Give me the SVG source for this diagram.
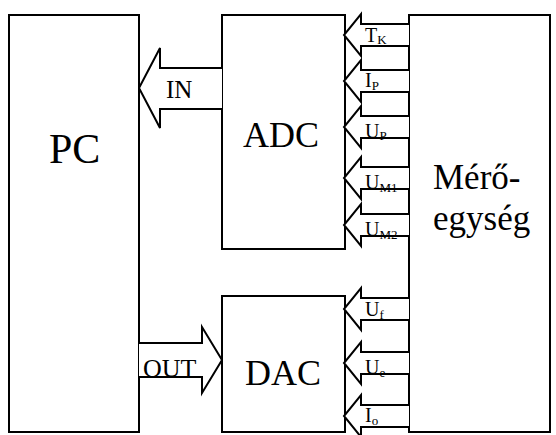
<svg xmlns="http://www.w3.org/2000/svg" width="556" height="435" viewBox="0 0 556 435">
<style>
.box{fill:#fff;stroke:#000;stroke-width:2}
.arr{fill:#fff;stroke:#000;stroke-width:2;stroke-linejoin:miter}
.t{font-family:'Liberation Serif','Times New Roman',serif;fill:#000}
.lbl{font-size:20px}
.sub{font-size:13px}
</style>
<rect width="556" height="435" fill="#fff"/>
<g id="pc"><rect class="box" x="9" y="15" width="130" height="417"/><text class="t" font-size="21" transform="translate(49,163) scale(2)">PC</text></g>
<g id="adc"><rect class="box" x="222" y="15" width="123" height="234"/><text class="t" font-size="18" transform="translate(243,147) scale(2)">ADC</text></g>
<g id="dac"><rect class="box" x="222" y="296" width="123" height="136"/><text class="t" font-size="18" transform="translate(245,385) scale(2)">DAC</text></g>
<g id="mero"><rect class="box" x="409" y="15" width="141" height="417"/><text class="t" font-size="17.5" transform="translate(433,189) scale(2)">Mérő-</text><text class="t" font-size="17.5" transform="translate(433,230) scale(2)">egység</text></g>
<g id="connectors">
<polyline class="arr" points="222,68 160,68 160,48 139,88 160,128 160,109 222,109"/>
<text class="t" font-size="25" x="166" y="98">IN</text>
<polyline class="arr" points="139,343 202,343 202,327 222,360 202,393 202,377 139,377"/>
<text class="t" font-size="26" x="143" y="377">OUT</text>
<polyline class="arr" points="409,24 361,24 361,14 344,35 361,56 361,46 409,46"/>
<text class="t lbl" x="365" y="42">T<tspan class="sub" dy="2">K</tspan></text>
<polyline class="arr" points="409,70 361,70 361,60 344,81 361,102 361,92 409,92"/>
<text class="t lbl" x="365" y="87">I<tspan class="sub" dy="3">P</tspan></text>
<polyline class="arr" points="409,116 361,116 361,106 344,127 361,148 361,138 409,138"/>
<text class="t lbl" x="365" y="138">U<tspan class="sub" dy="2">P</tspan></text>
<polyline class="arr" points="409,167 361,167 361,157 344,178 361,199 361,189 409,189"/>
<text class="t lbl" x="365" y="189">U<tspan class="sub" dy="3">M1</tspan></text>
<polyline class="arr" points="409,214 361,214 361,204 344,225 361,246 361,236 409,236"/>
<text class="t lbl" x="365" y="236">U<tspan class="sub" dy="3">M2</tspan></text>
<polyline class="arr" points="409,298 361,298 361,288 344,309 361,330 361,320 409,320"/>
<text class="t lbl" x="365" y="316">U<tspan class="sub" dy="3">f</tspan></text>
<polyline class="arr" points="409,352 361,352 361,342 344,363 361,384 361,374 409,374"/>
<text class="t lbl" x="365" y="374">U<tspan class="sub" dy="3">e</tspan></text>
<polyline class="arr" points="409,405 361,405 361,395 344,416 361,437 361,427 409,427"/>
<text class="t lbl" x="365" y="422">I<tspan class="sub" dy="3">o</tspan></text>
</g>
</svg>
